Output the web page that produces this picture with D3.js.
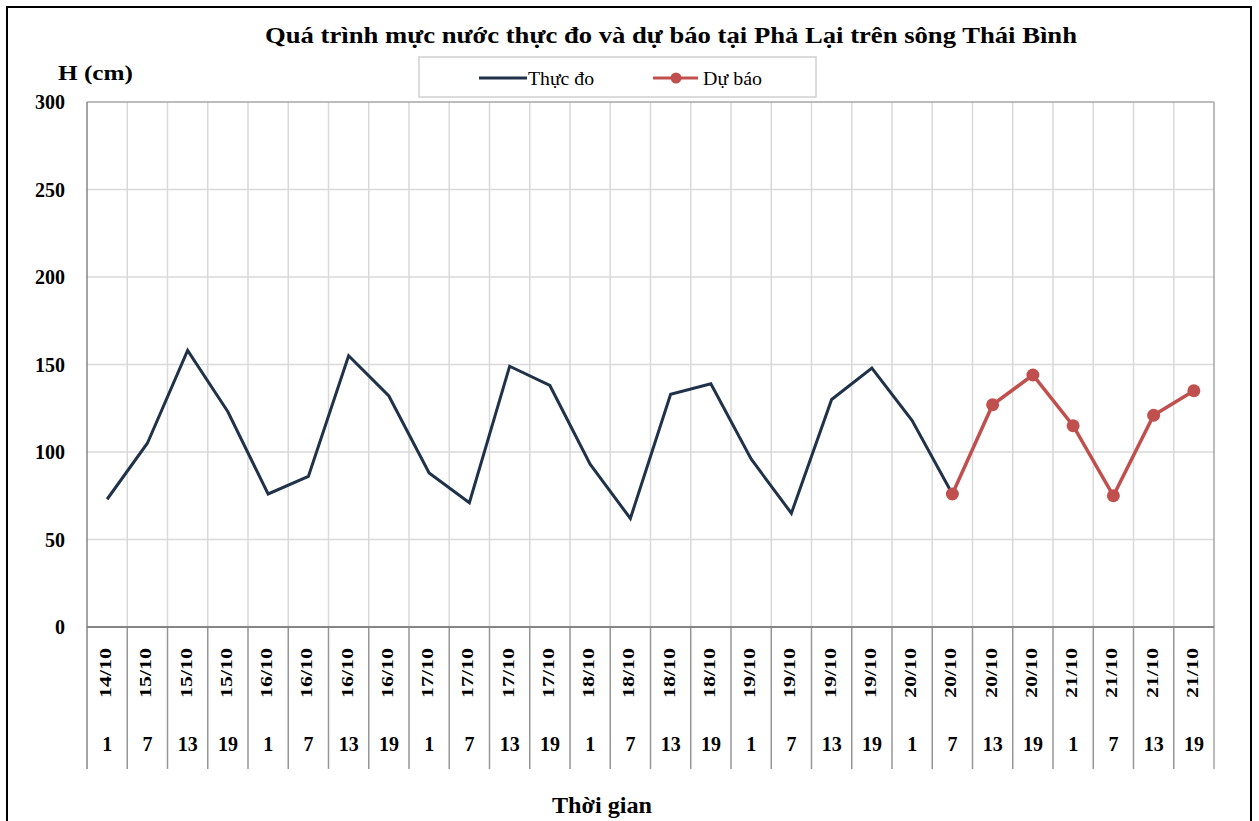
<!DOCTYPE html>
<html><head><meta charset="utf-8">
<script src="https://cdn.jsdelivr.net/npm/d3@7"></script>
<style>body{margin:0;background:#fff}svg{display:block}text{font-family:"Liberation Serif","Times New Roman",serif}</style>
</head><body><svg id="c" width="1259" height="821"></svg>
<script>
const dates = ["14/10","15/10","15/10","15/10","16/10","16/10","16/10","16/10","17/10","17/10","17/10","17/10","18/10","18/10","18/10","18/10","19/10","19/10","19/10","19/10","20/10","20/10","20/10","20/10","21/10","21/10","21/10","21/10"];
const hours = ["1","7","13","19","1","7","13","19","1","7","13","19","1","7","13","19","1","7","13","19","1","7","13","19","1","7","13","19"];
const observed = [73,105,158,123,76,86,155,132,88,71,149,138,93,62,133,139,96,65,130,148,118,76];
const forecastStart = 21;
const forecast = [76,127,144,115,75,121,135];
const yTicks = [0,50,100,150,200,250,300];

const svg = d3.select("#c");
const L=87, R=1214, T=102, B=627, BOT=769;
const idx = d3.range(dates.length);
const x = d3.scaleBand().domain(idx).range([L,R]).padding(0);
const y = d3.scaleLinear().domain([0,300]).range([B,T]);
const cx = i => x(i)+x.bandwidth()/2;

// outer border
svg.append("rect").attr("x",7).attr("y",7).attr("width",1244).attr("height",830).attr("fill","none").attr("stroke","#000").attr("stroke-width",2);

// horizontal grid
svg.append("g").selectAll("line").data(yTicks.filter(d=>d>0&&d<300)).join("line")
  .attr("x1",L).attr("x2",R).attr("y1",d=>y(d)).attr("y2",d=>y(d)).attr("stroke","#d9d9d9").attr("stroke-width",1.5);
// vertical grid in plot
svg.append("g").selectAll("line").data(idx.slice(1)).join("line")
  .attr("x1",d=>x(d)).attr("x2",d=>x(d)).attr("y1",T).attr("y2",B).attr("stroke","#d9d9d9").attr("stroke-width",1.5);
// separators below axis
svg.append("g").selectAll("line").data(idx.slice(1)).join("line")
  .attr("x1",d=>x(d)).attr("x2",d=>x(d)).attr("y1",B).attr("y2",BOT).attr("stroke","#969696").attr("stroke-width",1.5);
// plot border
svg.append("line").attr("x1",L).attr("x2",R).attr("y1",T).attr("y2",T).attr("stroke","#a6a6a6").attr("stroke-width",1.5);
svg.append("line").attr("x1",R).attr("x2",R).attr("y1",T).attr("y2",BOT).attr("stroke","#a6a6a6").attr("stroke-width",1.5);
svg.append("line").attr("x1",L).attr("x2",L).attr("y1",T).attr("y2",BOT).attr("stroke","#868686").attr("stroke-width",1.5);
svg.append("line").attr("x1",L).attr("x2",R).attr("y1",B).attr("y2",B).attr("stroke","#868686").attr("stroke-width",2);

// y tick labels
svg.append("g").selectAll("text").data(yTicks).join("text")
  .attr("x",65).attr("y",d=>y(d)).attr("dy","0.35em").attr("text-anchor","end")
  .attr("font-size",20).attr("font-weight","bold").text(d=>d);

// date labels rotated
svg.append("g").selectAll("text").data(idx).join("text")
  .attr("transform",i=>`translate(${cx(i)+4},${673}) rotate(-90)`)
  .attr("text-anchor","middle").attr("font-size",16).attr("font-weight","bold")
  .attr("textLength",50).attr("lengthAdjust","spacingAndGlyphs").text(i=>dates[i]);
// hour labels
svg.append("g").selectAll("text").data(idx).join("text")
  .attr("x",i=>cx(i)).attr("y",744).attr("dy","0.35em").attr("text-anchor","middle")
  .attr("font-size",20).attr("font-weight","bold").text(i=>hours[i]);

// lines
const line = d3.line().x(d=>cx(d.i)).y(d=>y(d.v));
const obsData = observed.map((v,i)=>({i,v}));
const fcData = forecast.map((v,k)=>({i:forecastStart+k,v}));
svg.append("path").datum(obsData).attr("d",line).attr("fill","none").attr("stroke","#1f3249").attr("stroke-width",3).attr("stroke-linejoin","miter");
svg.append("path").datum(fcData).attr("d",line).attr("fill","none").attr("stroke","#c0504d").attr("stroke-width",3.5);
svg.append("g").selectAll("circle").data(fcData).join("circle")
  .attr("cx",d=>cx(d.i)).attr("cy",d=>y(d.v)).attr("r",6.5).attr("fill","#c0504d");

// title
svg.append("text").attr("x",671).attr("y",43).attr("text-anchor","middle").attr("font-size",24).attr("font-weight","bold")
  .attr("textLength",812).attr("lengthAdjust","spacingAndGlyphs")
  .text("Quá trình mực nước thực đo và dự báo tại Phả Lại trên sông Thái Bình");
svg.append("text").attr("x",58).attr("y",80).attr("font-size",22).attr("font-weight","bold")
  .attr("textLength",75).attr("lengthAdjust","spacingAndGlyphs").text("H (cm)");
svg.append("text").attr("x",552).attr("y",813).attr("font-size",24).attr("font-weight","bold")
  .attr("textLength",100).attr("lengthAdjust","spacingAndGlyphs").text("Thời gian");

// legend
const lg = svg.append("g");
lg.append("rect").attr("x",419).attr("y",57).attr("width",397).attr("height",40).attr("fill","#fff").attr("stroke","#d0d0d0").attr("stroke-width",1.5);
lg.append("line").attr("x1",479).attr("x2",527).attr("y1",78).attr("y2",78).attr("stroke","#1f3249").attr("stroke-width",3);
lg.append("text").attr("x",528).attr("y",78).attr("dy","0.35em").attr("font-size",19)
  .attr("textLength",66).attr("lengthAdjust","spacingAndGlyphs").text("Thực đo");
lg.append("line").attr("x1",653).attr("x2",698).attr("y1",78).attr("y2",78).attr("stroke","#c0504d").attr("stroke-width",3);
lg.append("circle").attr("cx",676).attr("cy",78).attr("r",5.5).attr("fill","#c0504d");
lg.append("text").attr("x",703).attr("y",78).attr("dy","0.35em").attr("font-size",19)
  .attr("textLength",59).attr("lengthAdjust","spacingAndGlyphs").text("Dự báo");
</script></body></html>
